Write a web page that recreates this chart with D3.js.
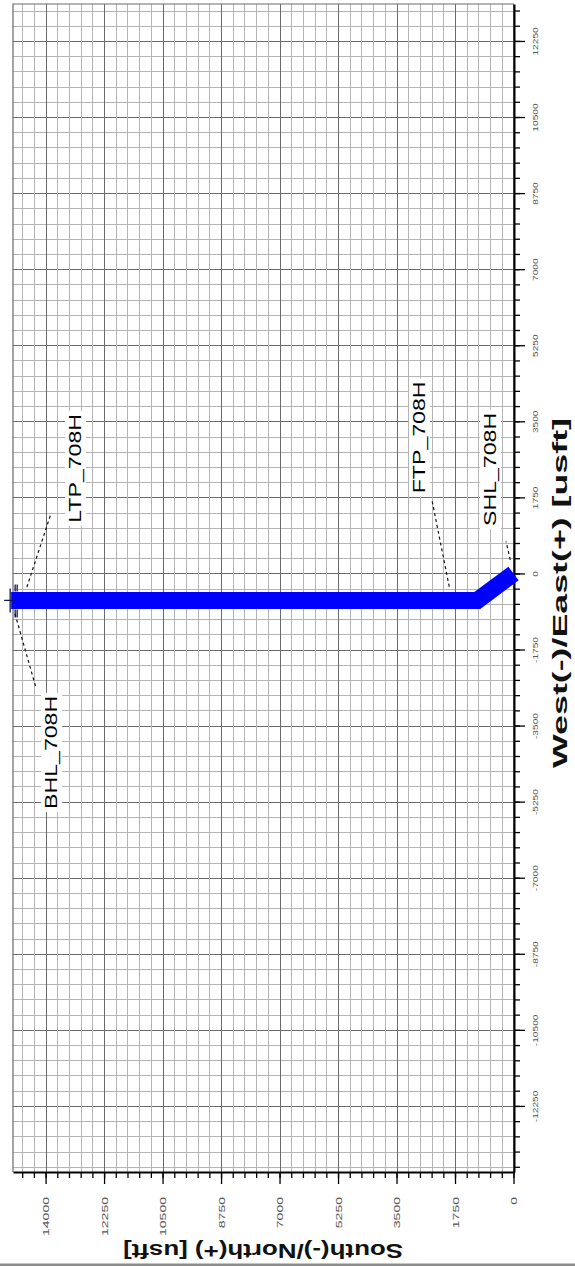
<!DOCTYPE html>
<html>
<head>
<meta charset="utf-8">
<script src="https://cdn.jsdelivr.net/npm/d3@7"></script>
<style>
    html, body { margin: 0; padding: 0; background: #fff; }
    svg { display: block; }
    text { font-family: "Liberation Sans", Arial, sans-serif; }
</style>
</head>
<body>
<svg id="chart" width="575" height="1266"></svg>
<script>
// Plan view of the 708H well, turned a quarter turn: East runs up the page,
// North runs to the left, the way the plot was pasted into the report.

// axis ticks (usft)
var eastTicks = [-12250, -10500, -8750, -7000, -5250, -3500, -1750, 0,
                 1750, 3500, 5250, 7000, 8750, 10500, 12250];
var northTicks = [0, 1750, 3500, 5250, 7000, 8750, 10500, 12250, 14000];

// wellbore survey, surface to bottom hole
var surveyNorth = [0, 1080, 15030];
var surveyEast = [0, -620, -620];

// targets
var targetNames = ['SHL_708H', 'FTP_708H', 'LTP_708H', 'BHL_708H'];
var targetNorth = [0, 1840, 14690, 15030];
var targetEast = [0, -620, -620, -620];

var svg = d3.select('#chart'),
    plot = {left: 13, right: 514, top: 4, bottom: 1172},
    minorStep = 350,
    // plain hyphen for negatives, no thousands separator
    tickFmt = function (d) { return String(d); },

    // labels are placed in pixels from their target: text centre and leader end
    labelLayout = {
        'SHL_708H': {text: [-17.5, -104], leader: [-7.5, -32]},
        'FTP_708H': {text: [-27, -163], leader: [-20, -100]},
        'LTP_708H': {text: [58.5, -132], leader: [28.5, -87]},
        'BHL_708H': {text: [46, 152], leader: [25, 88]}
    },

    north = d3.scaleLinear().domain([-15, 14975]).range([plot.right, plot.left]),
    east = d3.scaleLinear().domain([-13770, 13100]).range([plot.bottom, plot.top]),

    /**
     * The picture was squeezed unevenly, so text is drawn longer than
     * the font would make it.
     */
    stretch = function (sel, k) {
        sel.each(function () {
            var len = this.getComputedTextLength();
            d3.select(this)
                .attr('textLength', len * k)
                .attr('lengthAdjust', 'spacingAndGlyphs');
        });
    };

svg.append('rect')
    .attr('width', 575)
    .attr('height', 1266)
    .attr('fill', '#fff');

// grid
var grid = svg.append('g').attr('class', 'grid'),
    eastLines = d3.range(Math.ceil(east.domain()[0] / minorStep) * minorStep, east.domain()[1], minorStep),
    northLines = d3.range(0, north.domain()[1], minorStep),
    isMajor = function (v) { return v % 1750 === 0; },
    byMajor = function (a, b) { return isMajor(a) - isMajor(b); };

grid.selectAll('line.e')
    .data(eastLines.slice().sort(byMajor))
    .enter().append('line')
    .attr('class', 'e')
    .attr('x1', plot.left)
    .attr('x2', plot.right)
    .attr('y1', function (d) { return Math.round(east(d)) + 0.5; })
    .attr('y2', function (d) { return Math.round(east(d)) + 0.5; })
    .attr('stroke', function (d) { return isMajor(d) ? '#6a6a6a' : '#b4b4b4'; })
    .attr('stroke-width', 1);

grid.selectAll('line.n')
    .data(northLines.slice().sort(byMajor))
    .enter().append('line')
    .attr('class', 'n')
    .attr('y1', plot.top)
    .attr('y2', plot.bottom)
    .attr('x1', function (d) { return Math.round(north(d)) + 0.5; })
    .attr('x2', function (d) { return Math.round(north(d)) + 0.5; })
    .attr('stroke', function (d) { return isMajor(d) ? '#6a6a6a' : '#b4b4b4'; })
    .attr('stroke-width', 1);

// far edges of the frame
grid.append('path')
    .attr('d', 'M' + plot.left + ',' + plot.bottom + 'V' + plot.top + 'H' + plot.right)
    .attr('fill', 'none')
    .attr('stroke', '#6a6a6a')
    .attr('stroke-width', 1.2);

// East axis on the right
var eastAxisG = svg.append('g')
    .attr('transform', 'translate(' + plot.right + ',0)');

eastAxisG.append('g')
    .call(d3.axisRight(east).tickValues(eastLines).tickSize(6).tickFormat(''))
    .call(function (g) { g.select('.domain').remove(); });

eastAxisG.append('g')
    .call(d3.axisRight(east).tickValues(eastTicks).tickSize(11).tickSizeOuter(0).tickFormat(tickFmt))
    .call(function (g) {
        g.select('.domain').attr('stroke-width', 2);
        g.selectAll('text')
            .attr('x', 0)
            .attr('y', 0)
            .attr('dy', null)
            .attr('text-anchor', 'middle')
            .attr('transform', 'translate(23.5,0) rotate(-90)')
            .attr('fill', '#555')
            .attr('font-size', 7)
            .call(stretch, 1.45);
    });

eastAxisG.selectAll('.tick line').attr('stroke', '#000').attr('stroke-width', 1.3);

// North axis along the bottom
var northAxisG = svg.append('g')
    .attr('transform', 'translate(0,' + plot.bottom + ')');

northAxisG.append('g')
    .call(d3.axisBottom(north).tickValues(northLines).tickSize(6).tickFormat(''))
    .call(function (g) { g.select('.domain').remove(); });

northAxisG.append('g')
    .call(d3.axisBottom(north).tickValues(northTicks).tickSize(12).tickSizeOuter(0).tickFormat(tickFmt))
    .call(function (g) {
        g.select('.domain').attr('stroke-width', 2);
        g.selectAll('text')
            .attr('x', 0)
            .attr('y', 0)
            .attr('dy', null)
            .attr('text-anchor', 'end')
            .attr('transform', 'translate(3.2,25) rotate(-90)')
            .attr('fill', '#555')
            .attr('font-size', 8.5)
            .call(stretch, 1.65);
    });

northAxisG.selectAll('.tick line').attr('stroke', '#000').attr('stroke-width', 1.3);

// axis titles
svg.append('text')
    .attr('transform', 'translate(567,593) rotate(-90)')
    .attr('text-anchor', 'middle')
    .attr('font-size', 19.5)
    .attr('font-weight', 'bold')
    .attr('fill', '#111')
    .attr('textLength', 350)
    .attr('lengthAdjust', 'spacingAndGlyphs')
    .text('West(-)/East(+) [usft]');

svg.append('text')
    .attr('transform', 'translate(263,1244) rotate(180)')
    .attr('text-anchor', 'middle')
    .attr('font-size', 21)
    .attr('font-weight', 'bold')
    .attr('fill', '#111')
    .attr('textLength', 280)
    .attr('lengthAdjust', 'spacingAndGlyphs')
    .text('South(-)/North(+) [usft]');

// wellbore
var survey = d3.range(surveyNorth.length),
    wellLine = d3.line()
        .x(function (i) { return north(surveyNorth[i]); })
        .y(function (i) { return east(surveyEast[i]); });

svg.append('path')
    .datum(survey)
    .attr('d', wellLine)
    .attr('fill', 'none')
    .attr('stroke', '#0000ff')
    .attr('stroke-width', 17)
    .attr('stroke-linecap', 'butt')
    .attr('stroke-linejoin', 'miter');

// bottom hole cross
var last = targetNames.length - 1,
    bx = north(targetNorth[last]),
    by = east(targetEast[last]),
    cross = svg.append('g')
        .attr('transform', 'translate(' + bx + ',' + by + ')')
        .attr('stroke', '#14145a')
        .attr('stroke-width', 1.3)
        .attr('fill', 'none');

cross.append('path').attr('d', 'M-7,0H5M-1,-12V12');
cross.append('path').attr('d', 'M4,9V17M6,9V17M4,-9V-16M6,-9V-16');

// target labels with dashed leaders
targetNames.forEach(function (name, i) {
    var px = north(targetNorth[i]),
        py = east(targetEast[i]),
        lay = labelLayout[name],
        lx = lay.leader[0],
        ly = lay.leader[1],
        len = Math.sqrt(lx * lx + ly * ly),
        gap = 14,
        label,
        text,
        box;

    svg.append('line')
        .attr('x1', px + lx / len * gap)
        .attr('y1', py + ly / len * gap)
        .attr('x2', px + lx)
        .attr('y2', py + ly)
        .attr('stroke', '#111')
        .attr('stroke-width', 1.2)
        .attr('stroke-dasharray', '3,3');

    label = svg.append('g')
        .attr('transform', 'translate(' + (px + lay.text[0]) + ',' + (py + lay.text[1]) + ') rotate(-90)');

    text = label.append('text')
        .attr('text-anchor', 'middle')
        .attr('font-size', 17)
        .attr('fill', '#000')
        .text(name)
        .call(stretch, 1.36);

    box = text.node().getBBox();
    label.insert('rect', 'text')
        .attr('x', -(+text.attr('textLength')) / 2 - 3)
        .attr('y', box.y - 1)
        .attr('width', +text.attr('textLength') + 6)
        .attr('height', box.height + 2)
        .attr('fill', '#fff');
});

// window edge at the bottom of the screenshot
svg.append('rect')
    .attr('x', 0)
    .attr('y', 1263.5)
    .attr('width', 575)
    .attr('height', 2.5)
    .attr('fill', '#8c8c8c');
</script>
</body>
</html>
